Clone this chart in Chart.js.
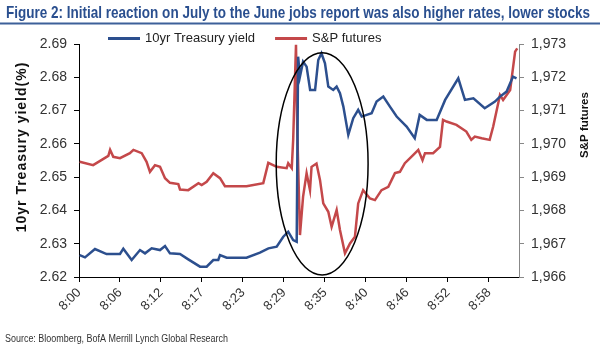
<!DOCTYPE html>
<html>
<head>
<meta charset="utf-8">
<script src="https://cdn.jsdelivr.net/npm/chart.js@4/dist/chart.umd.min.js"></script>
<style>
  html, body { margin: 0; padding: 0; background: #fff; }
  #wrap { width: 600px; height: 351px; position: relative; }
</style>
</head>
<body>
<div id="wrap"><canvas id="chart"></canvas></div>
<script>
// Treasury yield vs S&P futures around the June jobs report

// minutes after 8:00
const ustTime = [0.1, 0.85, 2.26, 3.9, 5.8, 6.27, 7.45, 8.63, 9.34, 10.28, 11.46, 12.17, 12.87, 14.29, 15.46,
  17.12, 18.06, 19.0, 19.7, 19.95, 20.9, 23.7, 25.6, 26.8, 27.97, 28.9, 29.6, 30.3, 30.8, 31.0, 31.26, 31.7,
  32.2, 32.7, 33.4, 33.85, 34.3, 34.8, 35.27, 35.97, 36.45, 36.92, 37.4, 38.1, 38.8, 39.5, 40.0, 40.7, 41.4,
  42.1, 43.05, 43.99, 44.94, 46.35, 47.5, 48.2, 49.2, 50.6, 51.8, 53.66, 54.6, 55.8, 57.4, 58.85, 59.56,
  60.5, 61.4, 61.9];
const ustYield = [2.6266, 2.6259, 2.6284, 2.6269, 2.6269, 2.6285, 2.6251, 2.6281, 2.6271, 2.6286, 2.6281,
  2.6293, 2.6271, 2.6269, 2.6253, 2.6231, 2.6231, 2.6251, 2.6251, 2.6266, 2.6258, 2.6258, 2.6273, 2.6286,
  2.6291, 2.6321, 2.6336, 2.6311, 2.6306, 2.6862, 2.6802, 2.6847, 2.6832, 2.6762, 2.6762, 2.6852, 2.6872,
  2.6842, 2.6772, 2.6762, 2.6772, 2.6752, 2.6712, 2.6627, 2.6677, 2.6702, 2.6682, 2.6687, 2.6692, 2.6727,
  2.6742, 2.6712, 2.6682, 2.6652, 2.6617, 2.6687, 2.6672, 2.6672, 2.6732, 2.6797, 2.6732, 2.6737, 2.6707,
  2.6727, 2.6742, 2.6757, 2.6802, 2.6797];

const spTime = [0.1, 2.0, 4.15, 4.4, 4.85, 5.8, 7.2, 7.7, 8.87, 9.56, 10.04, 10.75, 11.46, 12.17, 12.87,
  14.05, 14.29, 15.46, 16.9, 17.36, 18.06, 19.0, 19.95, 20.65, 23.7, 26.07, 26.78, 27.97, 29.38, 29.6, 30.1,
  30.3, 30.7, 30.88, 31.26, 31.7, 32.2, 32.68, 32.9, 33.6, 34.1, 34.56, 35.27, 35.74, 36.45, 36.92, 37.63,
  38.34, 39.04, 39.5, 40.2, 41.17, 41.87, 42.8, 43.76, 44.7, 45.4, 46.1, 47.3, 48.0, 48.6, 48.95, 50.1,
  51.07, 51.5, 52.0, 53.4, 54.8, 55.5, 56.0, 56.97, 58.1, 58.6, 59.56, 60.0, 61.0, 61.7, 62.0];
const spLevel = [1969.46, 1969.36, 1969.64, 1969.82, 1969.61, 1969.57, 1969.72, 1969.82, 1969.72, 1969.46,
  1969.16, 1969.36, 1969.31, 1968.97, 1968.83, 1968.79, 1968.63, 1968.61, 1968.82, 1968.76, 1968.86, 1969.12,
  1968.97, 1968.73, 1968.73, 1968.82, 1969.43, 1969.31, 1969.27, 1969.42, 1969.27, 1970.12, 1972.98, 1970.42,
  1967.26, 1968.41, 1969.12, 1968.61, 1969.31, 1969.41, 1968.91, 1968.21, 1967.96, 1967.51, 1968.01, 1967.41,
  1966.71, 1967.01, 1967.21, 1968.21, 1968.61, 1968.36, 1968.31, 1968.61, 1968.71, 1969.12, 1969.16, 1969.42,
  1969.67, 1969.82, 1969.51, 1969.72, 1969.72, 1969.91, 1970.72, 1970.67, 1970.57, 1970.37, 1970.12, 1970.22,
  1970.17, 1970.12, 1970.52, 1971.47, 1971.32, 1971.62, 1972.77, 1972.87];

const xTickMinutes = [0, 5.8, 11.6, 17.4, 23.2, 29, 34.8, 40.6, 46.4, 52.2, 58];
const xTickLabels = ['8:00', '8:06', '8:12', '8:17', '8:23', '8:29', '8:35', '8:40', '8:46', '8:52', '8:58'];

// circled reaction window: centre (minutes, yield) and half sizes
const circleCentre = [34.4, 2.654];
const circleHalf = [6.5, 0.0334];

const seriesNames = ['10yr Treasury yield', 'S&P futures'];
const titleText = 'Figure 2: Initial reaction on July to the June jobs report was also higher rates, lower stocks';
const sourceText = 'Source: Bloomberg, BofA Merrill Lynch Global Research';

const BLUE = '#2c4f8e';
const RED = '#c4484a';
const SANS = "'Liberation Sans', Arial, sans-serif";

// draw text squeezed to a given width (stands in for Arial Narrow)
function narrowText(ctx, text, x, y, width) {
    const w = ctx.measureText(text).width;
    ctx.save();
    ctx.translate(x, y);
    ctx.scale(width / w, 1);
    ctx.fillText(text, 0, 0);
    ctx.restore();
}

const decorations = {
    id: 'decorations',
    afterDatasetsDraw(chart) {
        const { ctx, scales } = chart;
        const x = scales.x, y = scales.y;
        const cx = x.getPixelForValue(circleCentre[0]);
        const cy = y.getPixelForValue(circleCentre[1]);
        const rx = Math.abs(x.getPixelForValue(circleCentre[0] + circleHalf[0]) - cx);
        const ry = Math.abs(y.getPixelForValue(circleCentre[1] + circleHalf[1]) - cy);
        ctx.save();
        ctx.beginPath();
        ctx.ellipse(cx, cy, rx, ry, 0, 0, Math.PI * 2);
        ctx.strokeStyle = '#000';
        ctx.lineWidth = 1.5;
        ctx.stroke();
        ctx.restore();
    },
    afterDraw(chart) {
        const ctx = chart.ctx;
        ctx.save();

        // title + rule
        ctx.fillStyle = '#2a4f8f';
        ctx.font = 'bold 16.5px ' + SANS;
        ctx.textBaseline = 'alphabetic';
        ctx.textAlign = 'left';
        narrowText(ctx, titleText, 6, 18, 584);
        ctx.strokeStyle = '#3d6099';
        ctx.lineWidth = 2;
        ctx.beginPath();
        ctx.moveTo(0, 23.5);
        ctx.lineTo(600, 23.5);
        ctx.stroke();

        // legend
        ctx.font = '13px ' + SANS;
        ctx.textBaseline = 'middle';
        let lx = 108;
        chart.data.datasets.forEach(ds => {
            ctx.strokeStyle = ds.borderColor;
            ctx.lineWidth = 3;
            ctx.beginPath();
            ctx.moveTo(lx, 38.5);
            ctx.lineTo(lx + 32, 38.5);
            ctx.stroke();
            ctx.fillStyle = '#222';
            ctx.fillText(ds.label, lx + 37, 38);
            lx += 37 + ctx.measureText(ds.label).width + 20;
        });

        // axis titles
        ctx.fillStyle = '#111';
        ctx.textAlign = 'center';
        ctx.font = 'bold 14px ' + SANS;
        ctx.letterSpacing = '1px';
        ctx.save();
        ctx.translate(22, 147);
        ctx.rotate(-Math.PI / 2);
        ctx.fillText('10yr Treasury yield(%)', 0, 0);
        ctx.restore();
        ctx.letterSpacing = '0px';
        ctx.font = 'bold 11.5px ' + SANS;
        ctx.save();
        ctx.translate(585, 125);
        ctx.rotate(-Math.PI / 2);
        ctx.fillText(seriesNames[1], 0, 0);
        ctx.restore();

        // source
        ctx.textAlign = 'left';
        ctx.textBaseline = 'alphabetic';
        ctx.fillStyle = '#333';
        ctx.font = '10px ' + SANS;
        narrowText(ctx, sourceText, 5, 342, 223);
        ctx.restore();
    }
};

const tickFont = { family: SANS, size: 14 };

new Chart(document.getElementById('chart'), {
    type: 'line',
    plugins: [decorations],
    data: {
        datasets: [{
            label: seriesNames[0],
            data: ustTime.map((t, i) => ({ x: t, y: ustYield[i] })),
            borderColor: BLUE,
            backgroundColor: BLUE,
            borderWidth: 2.5,
            pointRadius: 0,
            yAxisID: 'y'
        }, {
            label: seriesNames[1],
            data: spTime.map((t, i) => ({ x: t, y: spLevel[i] })),
            borderColor: RED,
            backgroundColor: RED,
            borderWidth: 2.5,
            pointRadius: 0,
            yAxisID: 'y1'
        }]
    },
    options: {
        responsive: true,
        maintainAspectRatio: false,
        animation: false,
        layout: { padding: { top: 44, left: 0, right: 0, bottom: 0 } },
        plugins: {
            legend: { display: false },
            title: { display: false },
            tooltip: { enabled: false }
        },
        scales: {
            x: {
                type: 'linear',
                min: 0,
                max: 62.25,
                afterBuildTicks: axis => { axis.ticks = xTickMinutes.map(v => ({ value: v })); },
                afterFit: axis => { axis.height = 74; },
                ticks: {
                    autoSkip: false,
                    minRotation: 45,
                    maxRotation: 45,
                    padding: 3,
                    color: '#333',
                    font: { family: SANS, size: 13 },
                    callback: (v, i) => xTickLabels[i]
                },
                grid: { drawOnChartArea: false, tickLength: 5, color: '#000' },
                border: { color: '#000', width: 1 }
            },
            y: {
                position: 'left',
                min: 2.62,
                max: 2.69,
                afterFit: axis => { axis.width = 79; },
                ticks: {
                    stepSize: 0.01,
                    padding: 7,
                    color: '#333',
                    font: tickFont,
                    callback: v => v.toFixed(2)
                },
                grid: { drawOnChartArea: false, tickLength: 5, color: '#000' },
                border: { color: '#000', width: 1 }
            },
            y1: {
                position: 'right',
                min: 1966,
                max: 1973,
                afterFit: axis => { axis.width = 81; },
                ticks: {
                    stepSize: 1,
                    padding: 7,
                    color: '#333',
                    font: tickFont,
                    callback: v => v.toLocaleString('en-US')
                },
                grid: { drawOnChartArea: false, tickLength: 5, color: '#888' },
                border: { color: '#888', width: 1 }
            }
        }
    }
});
</script>
</body>
</html>
